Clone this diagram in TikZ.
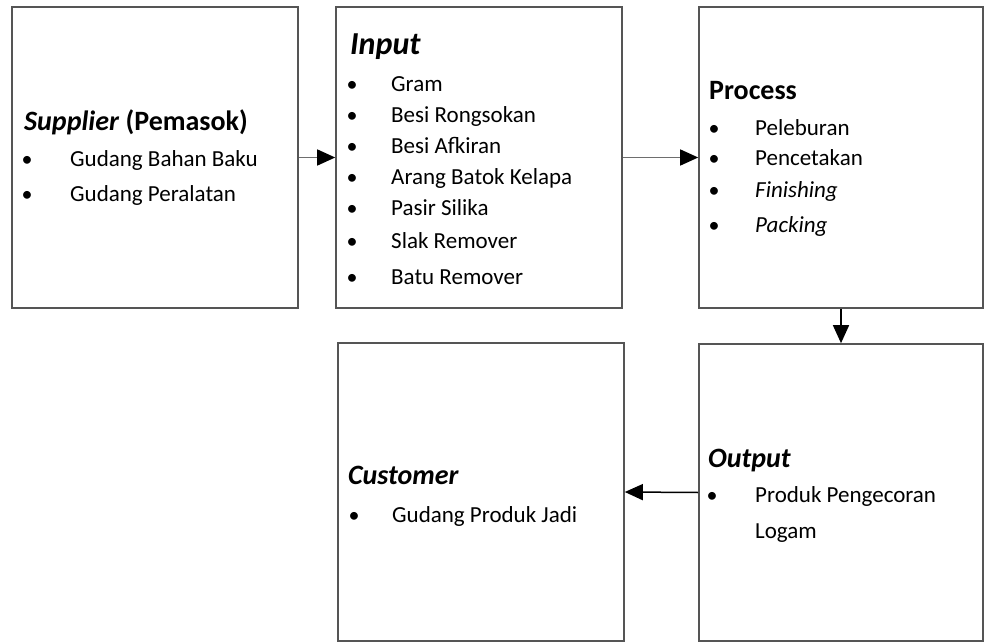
\documentclass[tikz,border=0pt]{standalone}
\usepackage{fontspec}
\setmainfont{Carlito}
\usetikzlibrary{arrows.meta}
\begin{document}
\begin{tikzpicture}[x=1pt,y=-1pt,
  box/.style={draw={rgb,255:red,85;green,85;blue,85}, line width=1.6pt, inner sep=0pt},
  flow/.style={line width=1.5pt, -{Triangle[length=18pt,width=16pt,color=black]}},
  title/.style={anchor=base west, inner sep=0pt, font=\fontsize{28}{32}\selectfont\bfseries},
  item/.style={anchor=base west, inner sep=0pt, font=\fontsize{23}{27}\selectfont},
  dot/.style={anchor=base, inner sep=0pt, font=\fontsize{22}{26}\selectfont}]
\useasboundingbox (0,0) rectangle (984,644);
% boxes: (left,top) to (right,bottom)
\node[box, minimum width=286pt, minimum height=301pt] (sup) at (155,157.5) {};
\node[box, minimum width=286pt, minimum height=301pt] (inp) at (479,157.5) {};
\node[box, minimum width=284pt, minimum height=301pt] (pro) at (841,157.5) {};
\node[box, minimum width=286pt, minimum height=298pt] (cus) at (481,492) {};
\node[box, minimum width=284pt, minimum height=297pt] (out) at (841,492.5) {};
% flows
\draw[flow, draw={rgb,255:red,110;green,110;blue,110}] (sup.east) -- (inp.west);
\draw[flow, draw={rgb,255:red,110;green,110;blue,110}] (inp.east) -- (pro.west);
\draw[flow, draw=black] (pro.south) -- (out.north);
\draw[flow, draw=black] (out.west) -- (cus.east);
% Supplier
\node[title] (supT) at (24,131) {\textit{Supplier} (Pemasok)};
\node[dot] (supB1) at (27,167) {\textbullet};
\node[item] (supI1) at (70,167) {Gudang Bahan Baku};
\node[dot] (supB2) at (27,202) {\textbullet};
\node[item] (supI2) at (70,202) {Gudang Peralatan};
% Input
\node[title, font=\fontsize{32}{36}\selectfont\bfseries\itshape] (inpT) at (350,55) {Input};
\node[dot] (inpB1) at (352,92) {\textbullet};
\node[item] (inpI1) at (391,92) {Gram};
\node[dot] (inpB2) at (352,123) {\textbullet};
\node[item] (inpI2) at (391,123) {Besi Rongsokan};
\node[dot] (inpB3) at (352,154) {\textbullet};
\node[item] (inpI3) at (391,154) {Besi Afkiran};
\node[dot] (inpB4) at (352,185) {\textbullet};
\node[item] (inpI4) at (391,185) {Arang Batok Kelapa};
\node[dot] (inpB5) at (352,216) {\textbullet};
\node[item] (inpI5) at (391,216) {Pasir Silika};
\node[dot] (inpB6) at (352,248) {\textbullet};
\node[item] (inpI6) at (391,248) {Slak Remover};
\node[dot] (inpB7) at (352,284) {\textbullet};
\node[item] (inpI7) at (391,284) {Batu Remover};
% Process
\node[title] (proT) at (709,100) {Process};
\node[dot] (proB1) at (714,136) {\textbullet};
\node[item] (proI1) at (755,136) {Peleburan};
\node[dot] (proB2) at (714,166) {\textbullet};
\node[item] (proI2) at (755,166) {Pencetakan};
\node[dot] (proB3) at (714,198) {\textbullet};
\node[item] (proI3) at (755,198) {\textit{Finishing}};
\node[dot] (proB4) at (714,233) {\textbullet};
\node[item] (proI4) at (755,233) {\textit{Packing}};
% Customer
\node[title, font=\fontsize{28}{32}\selectfont\bfseries\itshape] (cusT) at (348,484) {Customer};
\node[dot] (cusB1) at (354,522) {\textbullet};
\node[item] (cusI1) at (392,522) {Gudang Produk Jadi};
% Output
\node[title, font=\fontsize{28}{32}\selectfont\bfseries\itshape] (outT) at (708,467) {Output};
\node[dot] (outB1) at (712,502) {\textbullet};
\node[item] (outI1) at (755,502) {Produk Pengecoran};
\node[item] (outI2) at (755,538) {Logam};
\end{tikzpicture}
\end{document}
